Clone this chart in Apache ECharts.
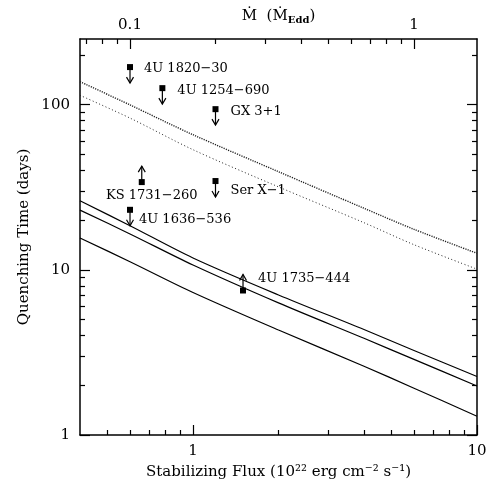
<!DOCTYPE html>
<html>
<head>
<meta charset="utf-8">
<script src="https://cdn.jsdelivr.net/npm/echarts@6/dist/echarts.min.js"></script>
<style>
  html, body { margin: 0; padding: 0; background: #fff; }
  #chart { width: 490px; height: 483px; }
</style>
</head>
<body>
<div id="chart"></div>
<script>
// curves: flux grid and quenching times (days)
const fluxGrid = [0.4, 0.6, 1, 2, 4, 6, 10];
const solidTop = [26.2, 18.5, 11.8, 7.05, 4.35, 3.25, 2.26];
const solidMid = [23.0, 16.5, 10.7, 6.31, 3.85, 2.87, 1.98];
const solidLow = [15.6, 11.2, 7.29, 4.32, 2.61, 1.92, 1.30];
const dottedTop = [138, 99.7, 65.8, 39.3, 23.6, 17.6, 12.6];
const dottedLow = [114, 83.0, 53.4, 31.8, 19.3, 14.2, 10.1];

// sources with limits
const sourceNames = ['4U 1820−30', '4U 1254−690', 'GX 3+1', 'KS 1731−260', 'Ser X−1', '4U 1636−536', '4U 1735−444'];
const sourceFlux = [0.60, 0.78, 1.20, 0.66, 1.20, 0.60, 1.50];
const sourceTime = [169, 126, 94, 34, 34.5, 23.1, 7.5];
const limitDir = ['down', 'down', 'down', 'up', 'down', 'down', 'up'];

// tick values
const xMajor = [1, 10];
const xMinor = [0.5, 0.6, 0.7, 0.8, 0.9, 2, 3, 4, 5, 6, 7, 8, 9];
const mdotMajor = [0.1, 1];
const mdotMinor = [0.07, 0.08, 0.09, 0.2, 0.3, 0.4, 0.5, 0.6, 0.7, 0.8, 0.9];
const yMajor = [1, 10, 100];
const yMinor = [2, 3, 4, 5, 6, 7, 8, 9, 20, 30, 40, 50, 60, 70, 80, 90, 200];
const fluxPerEdd = 6; // flux at Mdot = Mdot_Edd

// label placement next to each marker
const labelOffset = [[14, 2], [15, 2], [15, 2], [10, 14], [15, 10], [9, 10], [15, -12]];
const labelAlign = ['left', 'left', 'left', 'center', 'left', 'left', 'left'];

const FONT = '"DejaVu Serif", "Liberation Serif", serif';
const chart = echarts.init(document.getElementById('chart'));

const line = { color: '#000', width: 1.5 };
const lbl = { color: '#000', fontFamily: FONT, fontSize: 15 };

const axis = (extra) => Object.assign({
  type: 'log',
  logBase: 10,
  splitLine: { show: false },
  axisLine: { show: true, onZero: false, lineStyle: line },
  axisTick: { show: true, inside: true, length: 10, lineStyle: { color: '#000', width: 1 } },
  axisLabel: { show: false }
}, extra);

const majorTick = (vals) => ({ show: true, inside: true, length: 10, customValues: vals, lineStyle: { color: '#000', width: 1.2 } });
const minorTick = (vals) => ({ show: true, inside: true, length: 5, customValues: vals, lineStyle: { color: '#000', width: 1.2 } });
const noLine = { show: false };

const xMin = 0.4, xMax = 10, yMin = 1, yMax = 250;

const curve = (data, style) => ({
  type: 'line',
  data: fluxGrid.map((f, i) => [f, data[i]]),
  showSymbol: false,
  smooth: 0.3,
  silent: true,
  lineStyle: style
});

chart.setOption({
  animation: false,
  backgroundColor: '#fff',
  grid: { left: 80, right: 13, top: 39, bottom: 48, containLabel: false, outerBoundsMode: 'none' },
  xAxis: [
    axis({
      position: 'bottom', min: xMin, max: xMax,
      axisTick: majorTick(xMajor),
      axisLabel: Object.assign({ show: true, margin: 9, customValues: xMajor }, lbl),
      name: 'Stabilizing Flux (10²² erg cm⁻² s⁻¹)',
      nameLocation: 'middle', nameGap: 30, nameMoveOverlap: false,
      nameTextStyle: lbl
    }),
    axis({ position: 'bottom', min: xMin, max: xMax, axisLine: noLine, axisTick: minorTick(xMinor) }),
    axis({
      position: 'top', min: xMin / fluxPerEdd, max: xMax / fluxPerEdd,
      axisTick: majorTick(mdotMajor),
      axisLabel: Object.assign({ show: true, margin: 6, customValues: mdotMajor }, lbl),
      name: '{m|Ṁ  (Ṁ}{s|Edd}{m|)}',
      nameLocation: 'middle', nameGap: 14, nameMoveOverlap: false,
      nameTextStyle: {
        rich: {
          m: { fontFamily: FONT, fontSize: 15, color: '#000', lineHeight: 18 },
          s: { fontFamily: FONT, fontSize: 10, fontWeight: 'bold', color: '#000', lineHeight: 18, padding: [8, 0, 0, 0] }
        }
      }
    }),
    axis({ position: 'top', min: xMin / fluxPerEdd, max: xMax / fluxPerEdd, axisLine: noLine, axisTick: minorTick(mdotMinor) })
  ],
  yAxis: [
    axis({
      position: 'left', min: yMin, max: yMax,
      axisTick: majorTick(yMajor),
      axisLabel: Object.assign({ show: true, margin: 10, customValues: yMajor }, lbl),
      name: 'Quenching Time (days)',
      nameLocation: 'middle', nameGap: 48, nameMoveOverlap: false,
      nameTextStyle: lbl
    }),
    axis({ position: 'left', min: yMin, max: yMax, axisLine: noLine, axisTick: minorTick(yMinor) }),
    axis({ position: 'right', min: yMin, max: yMax, axisTick: majorTick(yMajor) }),
    axis({ position: 'right', min: yMin, max: yMax, axisLine: noLine, axisTick: minorTick(yMinor) })
  ],
  series: [
    curve(dottedTop, { color: '#222', width: 1.4, type: [1.2, 1.2] }),
    curve(dottedLow, { color: '#222', width: 1, type: [1, 2.5] }),
    curve(solidTop, { color: '#000', width: 1.2 }),
    curve(solidMid, { color: '#000', width: 1.2 }),
    curve(solidLow, { color: '#000', width: 1.2 }),
    {
      type: 'custom',
      silent: true,
      data: sourceFlux.map((f, i) => [f, sourceTime[i]]),
      renderItem: (params, api) => {
        const i = params.dataIndex;
        const p = api.coord([api.value(0), api.value(1)]);
        const dir = limitDir[i] === 'up' ? -1 : 1;
        const tip = p[1] + dir * 16;
        return {
          type: 'group',
          children: [
            { type: 'rect', shape: { x: p[0] - 3, y: p[1] - 3, width: 6, height: 6 }, style: { fill: '#000' } },
            { type: 'line', shape: { x1: p[0], y1: p[1], x2: p[0], y2: tip }, style: { stroke: '#000', lineWidth: 1.2 } },
            {
              type: 'polyline',
              shape: { points: [[p[0] - 3.5, tip - dir * 6], [p[0], tip], [p[0] + 3.5, tip - dir * 6]] },
              style: { stroke: '#000', fill: null, lineWidth: 1.2 }
            },
            {
              type: 'text',
              x: p[0] + labelOffset[i][0],
              y: p[1] + labelOffset[i][1],
              style: {
                text: sourceNames[i],
                font: '13px ' + FONT,
                fill: '#000',
                align: labelAlign[i],
                verticalAlign: 'middle'
              }
            }
          ]
        };
      }
    }
  ]
});
</script>
</body>
</html>
